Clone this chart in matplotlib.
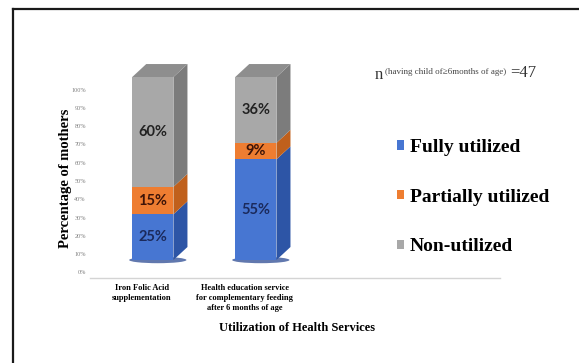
import matplotlib
matplotlib.use('Agg')
import matplotlib.pyplot as plt
import matplotlib.transforms as mtransforms
from matplotlib.patches import Polygon, Ellipse
from matplotlib.lines import Line2D
import numpy as np

CATEGORIES = ['Iron Folic Acid\nsupplementation',
              'Health education service\nfor complementary feeding\nafter 6 months of age']
SERIES = ['Fully utilized', 'Partially utilized', 'Non-utilized']
FULLY = [25, 55]
PARTIALLY = [15, 9]
NON = [60, 36]
Y_TICKS = [0, 10, 20, 30, 40, 50, 60, 70, 80, 90, 100]

FRONT = ['#4776d2', '#ee7d31', '#a8a8a8']
SIDE = ['#2d55a6', '#c0601c', '#7c7c7c']
TOP = ['#3a66bf', '#d86d25', '#8e8e8e']
LABEL_COLORS = ['#1b2a5c', '#3d1408', '#222222']

SERIF = 'Liberation Serif'
W, H, DPI = 579, 363, 100

fig = plt.figure(figsize=(W / DPI, H / DPI), dpi=DPI, facecolor='white')
ax = fig.add_axes([90 / W, 1 - 260 / H, 410 / W, 200 / H])

x = np.arange(len(CATEGORIES))
width = 0.40
dx, dy = 0.136, 7.1   # 3D depth offset in data units

values = [FULLY, PARTIALLY, NON]
bottoms = np.zeros(len(CATEGORIES))
handles = []
for s, vals in enumerate(values):
  vals = np.asarray(vals, dtype=float)
  bars = ax.bar(x, vals, width, bottom=bottoms, color=FRONT[s], edgecolor='none',
                label=SERIES[s], zorder=3)
  handles.append(bars)
  for i in range(len(x)):
    b, h = bottoms[i], vals[i]
    xr = x[i] + width / 2
    side = Polygon([(xr, b), (xr + dx, b + dy), (xr + dx, b + h + dy), (xr, b + h)],
                   closed=True, facecolor=SIDE[s], edgecolor='none', zorder=2)
    ax.add_patch(side)
    ax.text(x[i], b + h / 2, f'{int(h)}%', ha='center', va='center', fontsize=10.5,
            family='Lato', fontweight='bold', color=LABEL_COLORS[s], zorder=5)
  bottoms = bottoms + vals

# top faces and floor shadows
for i in range(len(x)):
  xl, xr, t = x[i] - width / 2, x[i] + width / 2, bottoms[i]
  ax.add_patch(Polygon([(xl, t), (xl + dx, t + dy), (xr + dx, t + dy), (xr, t)],
                       closed=True, facecolor=TOP[2], edgecolor='none', zorder=2))
  ax.add_patch(Ellipse((x[i] + dx / 2 - 0.02, 0), width + dx + 0.02, 3.5,
                       facecolor='#1e3f8c', alpha=0.7, edgecolor='none', zorder=1,
                       clip_on=False))

ax.set_xlim(-0.61, 3.37)
ax.set_ylim(0, 109.3)

for name in ['top', 'right', 'left']:
  ax.spines[name].set_visible(False)
ax.spines['bottom'].set_position(('outward', 13))
ax.spines['bottom'].set_color('#d4d4d4')
ax.spines['bottom'].set_linewidth(1.0)

ax.set_yticks(Y_TICKS, [f'{v}%' for v in Y_TICKS])
ax.tick_params(axis='y', length=0, pad=3, labelsize=4.5, labelcolor='#808080')
for lbl in ax.get_yticklabels():
  lbl.set_family(SERIF)
  lbl.set_transform(lbl.get_transform() +
                    mtransforms.ScaledTranslation(0, -12.5 / DPI, fig.dpi_scale_trans))

ax.set_xticks(x, CATEGORIES)
ax.tick_params(axis='x', length=0, pad=4, labelsize=6)
for lbl in ax.get_xticklabels():
  lbl.set_family(SERIF)
  lbl.set_fontweight('bold')
  lbl.set_linespacing(1.35)
  lbl.set_transform(lbl.get_transform() +
                    mtransforms.ScaledTranslation(-11 / DPI, 0, fig.dpi_scale_trans))

ax.set_ylabel('Percentage of mothers', family=SERIF, fontweight='bold', fontsize=10.5)
ax.yaxis.set_label_coords(-0.045, 0.41)

fig.text(297 / W, 1 - 328 / H, 'Utilization of Health Services', ha='center', va='center',
         family=SERIF, fontweight='bold', fontsize=9)

# sample size annotation
n_txt = fig.text(375 / W, 1 - 83 / H, 'n', ha='left', va='bottom', family=SERIF,
                 fontsize=12, color='#333333')
sup = ax.annotate('(having child of\u22656months of age)', xy=(1, 0.42), xycoords=n_txt,
                  xytext=(1, 0), textcoords='offset points', ha='left', va='bottom',
                  family=SERIF, fontsize=6.5, color='#444444', annotation_clip=False)
ax.annotate('=47', xy=(1, 0.1), xycoords=(sup, n_txt), xytext=(3, 0),
            textcoords='offset points', ha='left', va='bottom', family=SERIF,
            fontsize=12, color='#333333', annotation_clip=False)

fig.legend(handles=handles, labels=SERIES, loc='upper left',
           bbox_to_anchor=(397 / W, 1 - 139 / H), frameon=False, borderpad=0,
           borderaxespad=0, handlelength=0.36, handleheight=0.36, handletextpad=0.3,
           labelspacing=1.68, prop={'family': SERIF, 'weight': 'bold', 'size': 14})

# page frame
fig.add_artist(Line2D([13 / W, 13 / W], [0, 1 - 9 / H], color='#1a1a1a', lw=1.6))
fig.add_artist(Line2D([13 / W, 1], [1 - 9 / H, 1 - 9 / H], color='#1a1a1a', lw=1.6))

fig.savefig('out.png', dpi=DPI)
